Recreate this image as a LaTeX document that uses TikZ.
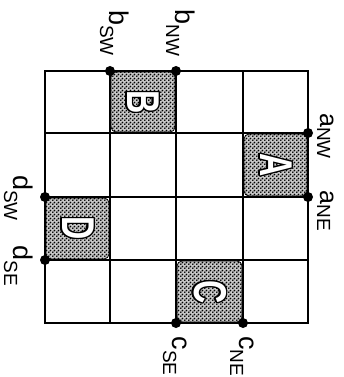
\documentclass[tikz,border=0pt]{standalone}
\usepackage{fontspec}
\setmainfont{Liberation Sans}
\usetikzlibrary{patterns.meta}
\pgfdeclarepattern{name=halftone, type=uncolored,
  bottom left={\pgfpoint{0pt}{0pt}}, top right={\pgfpoint{4pt}{4pt}},
  tile size={\pgfpoint{4pt}{4pt}},
  code={\pgfpathcircle{\pgfpoint{1pt}{1pt}}{1.1pt}\pgfpathcircle{\pgfpoint{3pt}{3pt}}{1.1pt}\pgfusepath{fill}}}
% corner label: letter, subscript, subscript drop, letter size
\newcommand\corner[4]{\smash{\fontsize{#4}{#4}\selectfont #1}\raisebox{-#3}{\smash{\fontsize{19}{19}\selectfont #2}}}
\tikzset{
  gridline/.style={line width=2.2pt, line cap=rect},
  shade/.style={preaction={fill=gray!45}, pattern=halftone, pattern color=black, draw=black, line width=0.8pt, rounded corners=5pt},
  vertex/.style={circle, fill=black, inner sep=0pt, minimum size=10pt},
  lab/.style={rotate=-90, anchor=base, inner sep=0pt},
  cellletter/.style={rotate=-90, xscale=0.7, font=\fontsize{46}{46}\selectfont\bfseries, inner sep=0pt},
  pics/outlined/.style={code={
    \foreach \a in {0,22.5,...,337.5}
      \node[cellletter, text=black, shift={(\a:1.6)}] {#1};
    \node[cellletter, text=white] (-l) {#1};
  }}
}
\begin{document}
\begin{tikzpicture}[x=1pt, y=-1pt]
\useasboundingbox (0,0) rectangle (343,377);
% shaded cells
\path[shade] (111,72) rectangle (175,132);   % B
\path[shade] (244,134) rectangle (307,196);  % A
\path[shade] (46,198) rectangle (109,259);   % D
\path[shade] (177,261) rectangle (242,322);  % C
% cell letters (white with black outline)
\pic (B) at (143,102) {outlined=B};
\pic (A) at (276,165) {outlined=A};
\pic (D) at (78,228) {outlined=D};
\pic (C) at (210,292) {outlined=C};
% grid
\foreach \x in {45,110,176,243,308} \draw[gridline] (\x,71) -- (\x,323);
\foreach \y in {71,133,197,260,323} \draw[gridline] (45,\y) -- (308,\y);
% corner points
\node[vertex] (bsw) at (110,71) {};
\node[vertex] (bnw) at (176,71) {};
\node[vertex] (anw) at (308,133) {};
\node[vertex] (ane) at (308,197) {};
\node[vertex] (dsw) at (45,197) {};
\node[vertex] (dse) at (45,260) {};
\node[vertex] (cse) at (176,323) {};
\node[vertex] (cne) at (243,323) {};
% labels
\node[lab] (lbsw) at (109,33) {\corner{b}{SW}{9pt}{27}};
\node[lab] (lbnw) at (175,33) {\corner{b}{NW}{9pt}{27}};
\node[lab] (lanw) at (320,136) {\corner{a}{NW}{3pt}{25}};
\node[lab] (lane) at (320,211) {\corner{a}{NE}{3pt}{25}};
\node[lab] (ldsw) at (13,198) {\corner{d}{SW}{9pt}{27}};
\node[lab] (ldse) at (13,266) {\corner{d}{SE}{9pt}{27}};
\node[lab] (lcse) at (172,356) {\corner{c}{SE}{9pt}{27}};
\node[lab] (lcne) at (239,356) {\corner{c}{NE}{9pt}{27}};
\end{tikzpicture}
\end{document}
